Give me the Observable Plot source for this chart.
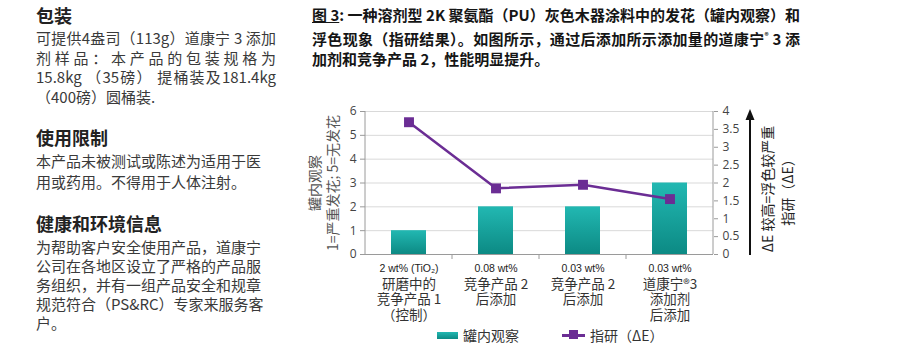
<!DOCTYPE html>
<html><head><meta charset="utf-8">
<script src="https://cdn.jsdelivr.net/npm/d3@7"></script>
<script src="https://cdn.jsdelivr.net/npm/@observablehq/plot@0.6"></script>
<style>
body{margin:0;background:#fff;}
#page{position:relative;width:900px;height:356px;overflow:hidden;font-family:"Noto Sans CJK SC",sans-serif;}
.h{position:absolute;left:36px;font-size:18px;font-weight:700;color:#222;line-height:20px;white-space:nowrap;}
.b{position:absolute;left:36px;width:240px;font-size:15px;color:#3a3a3a;white-space:nowrap;}
.j{text-align:justify;text-align-last:justify;}
#title{position:absolute;left:312px;top:5px;width:488px;font-size:15px;font-weight:700;color:#151515;line-height:20.5px;white-space:nowrap;}
#chart{position:absolute;left:300px;top:90px;}
#legend{position:absolute;left:0;top:326px;width:900px;height:18px;font-size:14px;color:#333;}
#legend .sw{position:absolute;top:6px;width:21px;height:7px;background:linear-gradient(#22b8b2,#0c8a84);}
#legend .ln{position:absolute;top:8px;width:23px;height:2.5px;background:#6b2d94;}
#legend .mk{position:absolute;top:4px;width:9px;height:9px;background:#6b2d94;}
#legend .t{position:absolute;top:0;line-height:18px;}
</style>
</head><body>
<div id="page">
  <div class="h" style="top:5px">包装</div>
  <div class="b" style="top:28px;line-height:19.7px">
    <div class="j">可提供4盎司（113g）道康宁 3 添加</div>
    <div class="j">剂样品：本产品的包装规格为</div>
    <div class="j">15.8kg （35磅） 提桶装及181.4kg</div>
    <div>（400磅）圆桶装.</div>
  </div>
  <div class="h" style="top:127px">使用限制</div>
  <div class="b" style="top:150px;line-height:21px">
    <div>本产品未被测试或陈述为适用于医</div>
    <div>用或药用。不得用于人体注射。</div>
  </div>
  <div class="h" style="top:213px">健康和环境信息</div>
  <div class="b" style="top:237px;line-height:19px">
    <div>为帮助客户安全使用产品，道康宁</div>
    <div>公司在各地区设立了严格的产品服</div>
    <div>务组织，并有一组产品安全和规章</div>
    <div>规范符合（PS&amp;RC）专家来服务客</div>
    <div>户。</div>
  </div>
  <div id="title">
    <div class="j"><span style="text-decoration:underline">图 3</span>: 一种溶剂型 2K 聚氨酯（PU）灰色木器涂料中的发花（罐内观察）和</div>
    <div class="j">浮色现象（指研结果）。如图所示，通过后添加所示添加量的道康宁<sup style="font-size:8px">®</sup> 3 添</div>
    <div>加剂和竞争产品 2，性能明显提升。</div>
  </div>
  <div id="chart"></div>
  <div id="legend">
    <div class="sw" style="left:437px"></div>
    <div class="t" style="left:463px">罐内观察</div>
    <div class="ln" style="left:562px"></div>
    <div class="mk" style="left:569px"></div>
    <div class="t" style="left:590px">指研（ΔE）</div>
  </div>
</div>
<script>
const categories = ["A", "B", "C", "D"];
const doseLabels = ["2 wt% (TiO₂)", "0.08 wt%", "0.03 wt%", "0.03 wt%"];
const nameLabels = ["研磨中的\n竞争产品 1\n（控制）", "竞争产品 2\n后添加", "竞争产品 2\n后添加", "道康宁®3\n添加剂\n后添加"];
const inCan = [1, 2, 2, 3];
const rubOut = [3.7, 1.85, 1.95, 1.55];
const leftTicks = [0, 1, 2, 3, 4, 5, 6];
const rightTicks = [0, 0.5, 1, 1.5, 2, 2.5, 3, 3.5, 4];
const leftTitle = ["罐内观察", "1=严重发花; 5=无发花"];
const rightTitle = ["ΔE 较高=浮色较严重", "指研（ΔE）"];

const ratio = leftTicks[leftTicks.length - 1] / rightTicks[rightTicks.length - 1];
const rows = categories.map((c, i) => ({c, dose: doseLabels[i], name: nameLabels[i], can: inCan[i], rub: rubOut[i] * ratio}));
const purple = "#6b2d94";
const cjk = '"Noto Sans CJK SC", sans-serif';

const deco = (index, scales, values, dims) => {
  const g = d3.create("svg:g");
  const x0 = dims.marginLeft, x1 = dims.width - dims.marginRight;
  const yb = scales.y(0), yt = scales.y(leftTicks[leftTicks.length - 1]);
  g.append("line").attr("x1", x0).attr("x2", x0).attr("y1", yt).attr("y2", yb).attr("stroke", "#9a9a9a");
  g.append("line").attr("x1", x1).attr("x2", x1).attr("y1", yt).attr("y2", yb).attr("stroke", "#9a9a9a");
  for (const c of categories.slice(1)) {
    const x = scales.x(c);
    g.append("line").attr("x1", x).attr("x2", x).attr("y1", yb).attr("y2", yb + 5).attr("stroke", "#9a9a9a");
  }
  const ax = x1 + 37;
  g.append("line").attr("x1", ax).attr("x2", ax).attr("y1", yb + 1).attr("y2", yt + 6).attr("stroke", "#111").attr("stroke-width", 2);
  g.append("path").attr("d", `M${ax - 4.5},${yt + 9}L${ax},${yt - 2}L${ax + 4.5},${yt + 9}Z`).attr("fill", "#111");
  return g.node();
};

const chart = Plot.plot({
  width: 500, height: 266,
  marginLeft: 65, marginRight: 87, marginTop: 21, marginBottom: 102,
  style: {fontFamily: '"Open Sans", sans-serif', fontSize: "12px", color: "#444", background: "transparent", overflow: "visible"},
  x: {type: "band", domain: categories, padding: 0, axis: null},
  y: {domain: [0, 6], axis: null},
  marks: [
    Plot.gridY(leftTicks.slice(1), {stroke: "#d9d9d9", strokeOpacity: 1}),
    Plot.axisY(leftTicks, {anchor: "left", tickSize: 5, tickPadding: 4, stroke: "#9a9a9a", fill: "#444"}),
    Plot.axisY(rightTicks.map(v => v * ratio), {anchor: "right", tickSize: 4, tickPadding: 5, stroke: "#9a9a9a", fill: "#444", tickFormat: d => String(+(d / ratio).toFixed(2))}),
    Plot.barY(rows, {x: "c", y: "can", fill: "url(#tealGrad)", insetLeft: 26, insetRight: 26}),
    Plot.ruleY([0], {stroke: "#9a9a9a"}),
    Plot.line(rows, {x: "c", y: "rub", stroke: purple, strokeWidth: 2.5}),
    Plot.dot(rows, {x: "c", y: "rub", symbol: "square", fill: purple, r: 5.6}),
    Plot.text(rows, {x: "c", text: "dose", frameAnchor: "bottom", lineAnchor: "top", dy: 10, fontSize: 10.5, fontFamily: '"Liberation Sans Narrow", "Liberation Sans", sans-serif', fill: "#222"}),
    Plot.text(rows, {x: "c", text: "name", frameAnchor: "bottom", lineAnchor: "top", dy: 23, fontSize: 13.5, lineHeight: 1.15, fontFamily: cjk, fill: "#333"}),
    Plot.text([leftTitle[0]], {frameAnchor: "left", textAnchor: "middle", dx: -50, rotate: -90, fontSize: 14, fontFamily: cjk, fill: "#555"}),
    Plot.text([leftTitle[1]], {frameAnchor: "left", textAnchor: "middle", dx: -32, rotate: -90, fontSize: 14, fontFamily: cjk, fill: "#555"}),
    Plot.text([rightTitle[0]], {frameAnchor: "right", textAnchor: "middle", dx: 55, dy: 6, rotate: -90, fontSize: 14, fontFamily: cjk, fill: "#222"}),
    Plot.text([rightTitle[1]], {frameAnchor: "right", textAnchor: "middle", dx: 75, dy: 6, rotate: -90, fontSize: 14, fontFamily: cjk, fill: "#222"}),
    deco
  ]
});
const svg = chart.tagName.toLowerCase() === "svg" ? chart : chart.querySelector("svg");
d3.select(svg).insert("defs", ":first-child").html('<linearGradient id="tealGrad" x1="0" y1="0" x2="0" y2="1"><stop offset="0" stop-color="#22b8b2"/><stop offset="1" stop-color="#0c8a84"/></linearGradient>');
document.getElementById("chart").appendChild(chart);
</script>
</body></html>
